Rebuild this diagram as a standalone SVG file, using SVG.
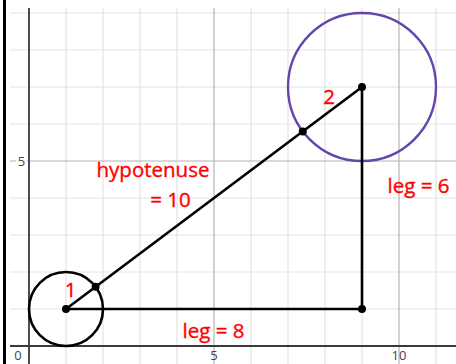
<svg xmlns="http://www.w3.org/2000/svg" width="456" height="364" viewBox="0 0 456 364">
<style>
.minor{stroke:#e3e3e3;stroke-width:1.2}
.major{stroke:#b4b4b4;stroke-width:1.2}
.axis{stroke:#3a3a3a;stroke-width:1.8}
.seg{stroke:#000;stroke-width:2.6;fill:none;stroke-linecap:round}
.dot{fill:#000}
.lbl{font-family:"Open Sans","Liberation Sans",sans-serif;font-size:20.5px;fill:#ff0000;stroke:#ff0000;stroke-width:0.35}
.tick{font-family:"Open Sans","Liberation Sans",sans-serif;font-size:13px;fill:#444}
</style>
<rect width="456" height="364" fill="#fff"/>
<rect x="3" y="0" width="3" height="364" fill="#000"/>
<g id="grid">
<g class="minor">
<line x1="66" y1="8" x2="66" y2="364"/><line x1="103" y1="8" x2="103" y2="364"/><line x1="140" y1="8" x2="140" y2="364"/><line x1="177" y1="8" x2="177" y2="364"/>
<line x1="251" y1="8" x2="251" y2="364"/><line x1="288" y1="8" x2="288" y2="364"/><line x1="325" y1="8" x2="325" y2="364"/><line x1="362" y1="8" x2="362" y2="364"/><line x1="436" y1="8" x2="436" y2="364"/>
<line x1="10" y1="13" x2="456" y2="13"/><line x1="10" y1="50" x2="456" y2="50"/><line x1="10" y1="87" x2="456" y2="87"/><line x1="10" y1="124" x2="456" y2="124"/>
<line x1="10" y1="198" x2="456" y2="198"/><line x1="10" y1="235" x2="456" y2="235"/><line x1="10" y1="272" x2="456" y2="272"/><line x1="10" y1="309" x2="456" y2="309"/>
</g>
<g class="major">
<line x1="214" y1="8" x2="214" y2="364"/><line x1="399" y1="8" x2="399" y2="364"/>
<line x1="10" y1="161" x2="456" y2="161"/>
</g>
<g class="axis">
<line x1="29" y1="8" x2="29" y2="364"/>
<line x1="10" y1="346" x2="456" y2="346"/>
</g>
<rect x="16" y="153" width="11" height="16" fill="#fff"/>
<text class="tick" x="21.5" y="166" text-anchor="middle">5</text>
<rect x="13" y="349" width="11" height="15" fill="#fff"/>
<text class="tick" x="18" y="360" text-anchor="middle">0</text>
<text class="tick" x="214" y="360" text-anchor="middle">5</text>
<text class="tick" x="399" y="360" text-anchor="middle">10</text>
</g>
<g id="circle1"><circle cx="66" cy="309" r="37" class="seg"/></g>
<g id="circle2"><circle cx="362" cy="87" r="74" fill="none" stroke="#6446ab" stroke-width="2.4"/></g>
<g id="connectors">
<line class="seg" x1="66" y1="309" x2="362" y2="87"/>
<line class="seg" x1="66" y1="309" x2="362" y2="309"/>
<line class="seg" x1="362" y1="309" x2="362" y2="87"/>
</g>
<g id="points">
<circle class="dot" cx="66" cy="309" r="4"/>
<circle class="dot" cx="362" cy="309" r="4"/>
<circle class="dot" cx="362" cy="87" r="4"/>
<circle class="dot" cx="95.6" cy="286.8" r="4"/>
<circle class="dot" cx="302.8" cy="131.4" r="4"/>
</g>
<g id="labels">
<text class="lbl" x="70.5" y="297" text-anchor="middle">1</text>
<text class="lbl" x="329" y="103.5" text-anchor="middle">2</text>
<text class="lbl" x="153" y="177" text-anchor="middle">hypotenuse</text>
<text class="lbl" x="170.5" y="207" text-anchor="middle">= 10</text>
<text class="lbl" x="213.5" y="338" text-anchor="middle">leg = 8</text>
<text class="lbl" x="418.5" y="193" text-anchor="middle">leg = 6</text>
</g>
</svg>
